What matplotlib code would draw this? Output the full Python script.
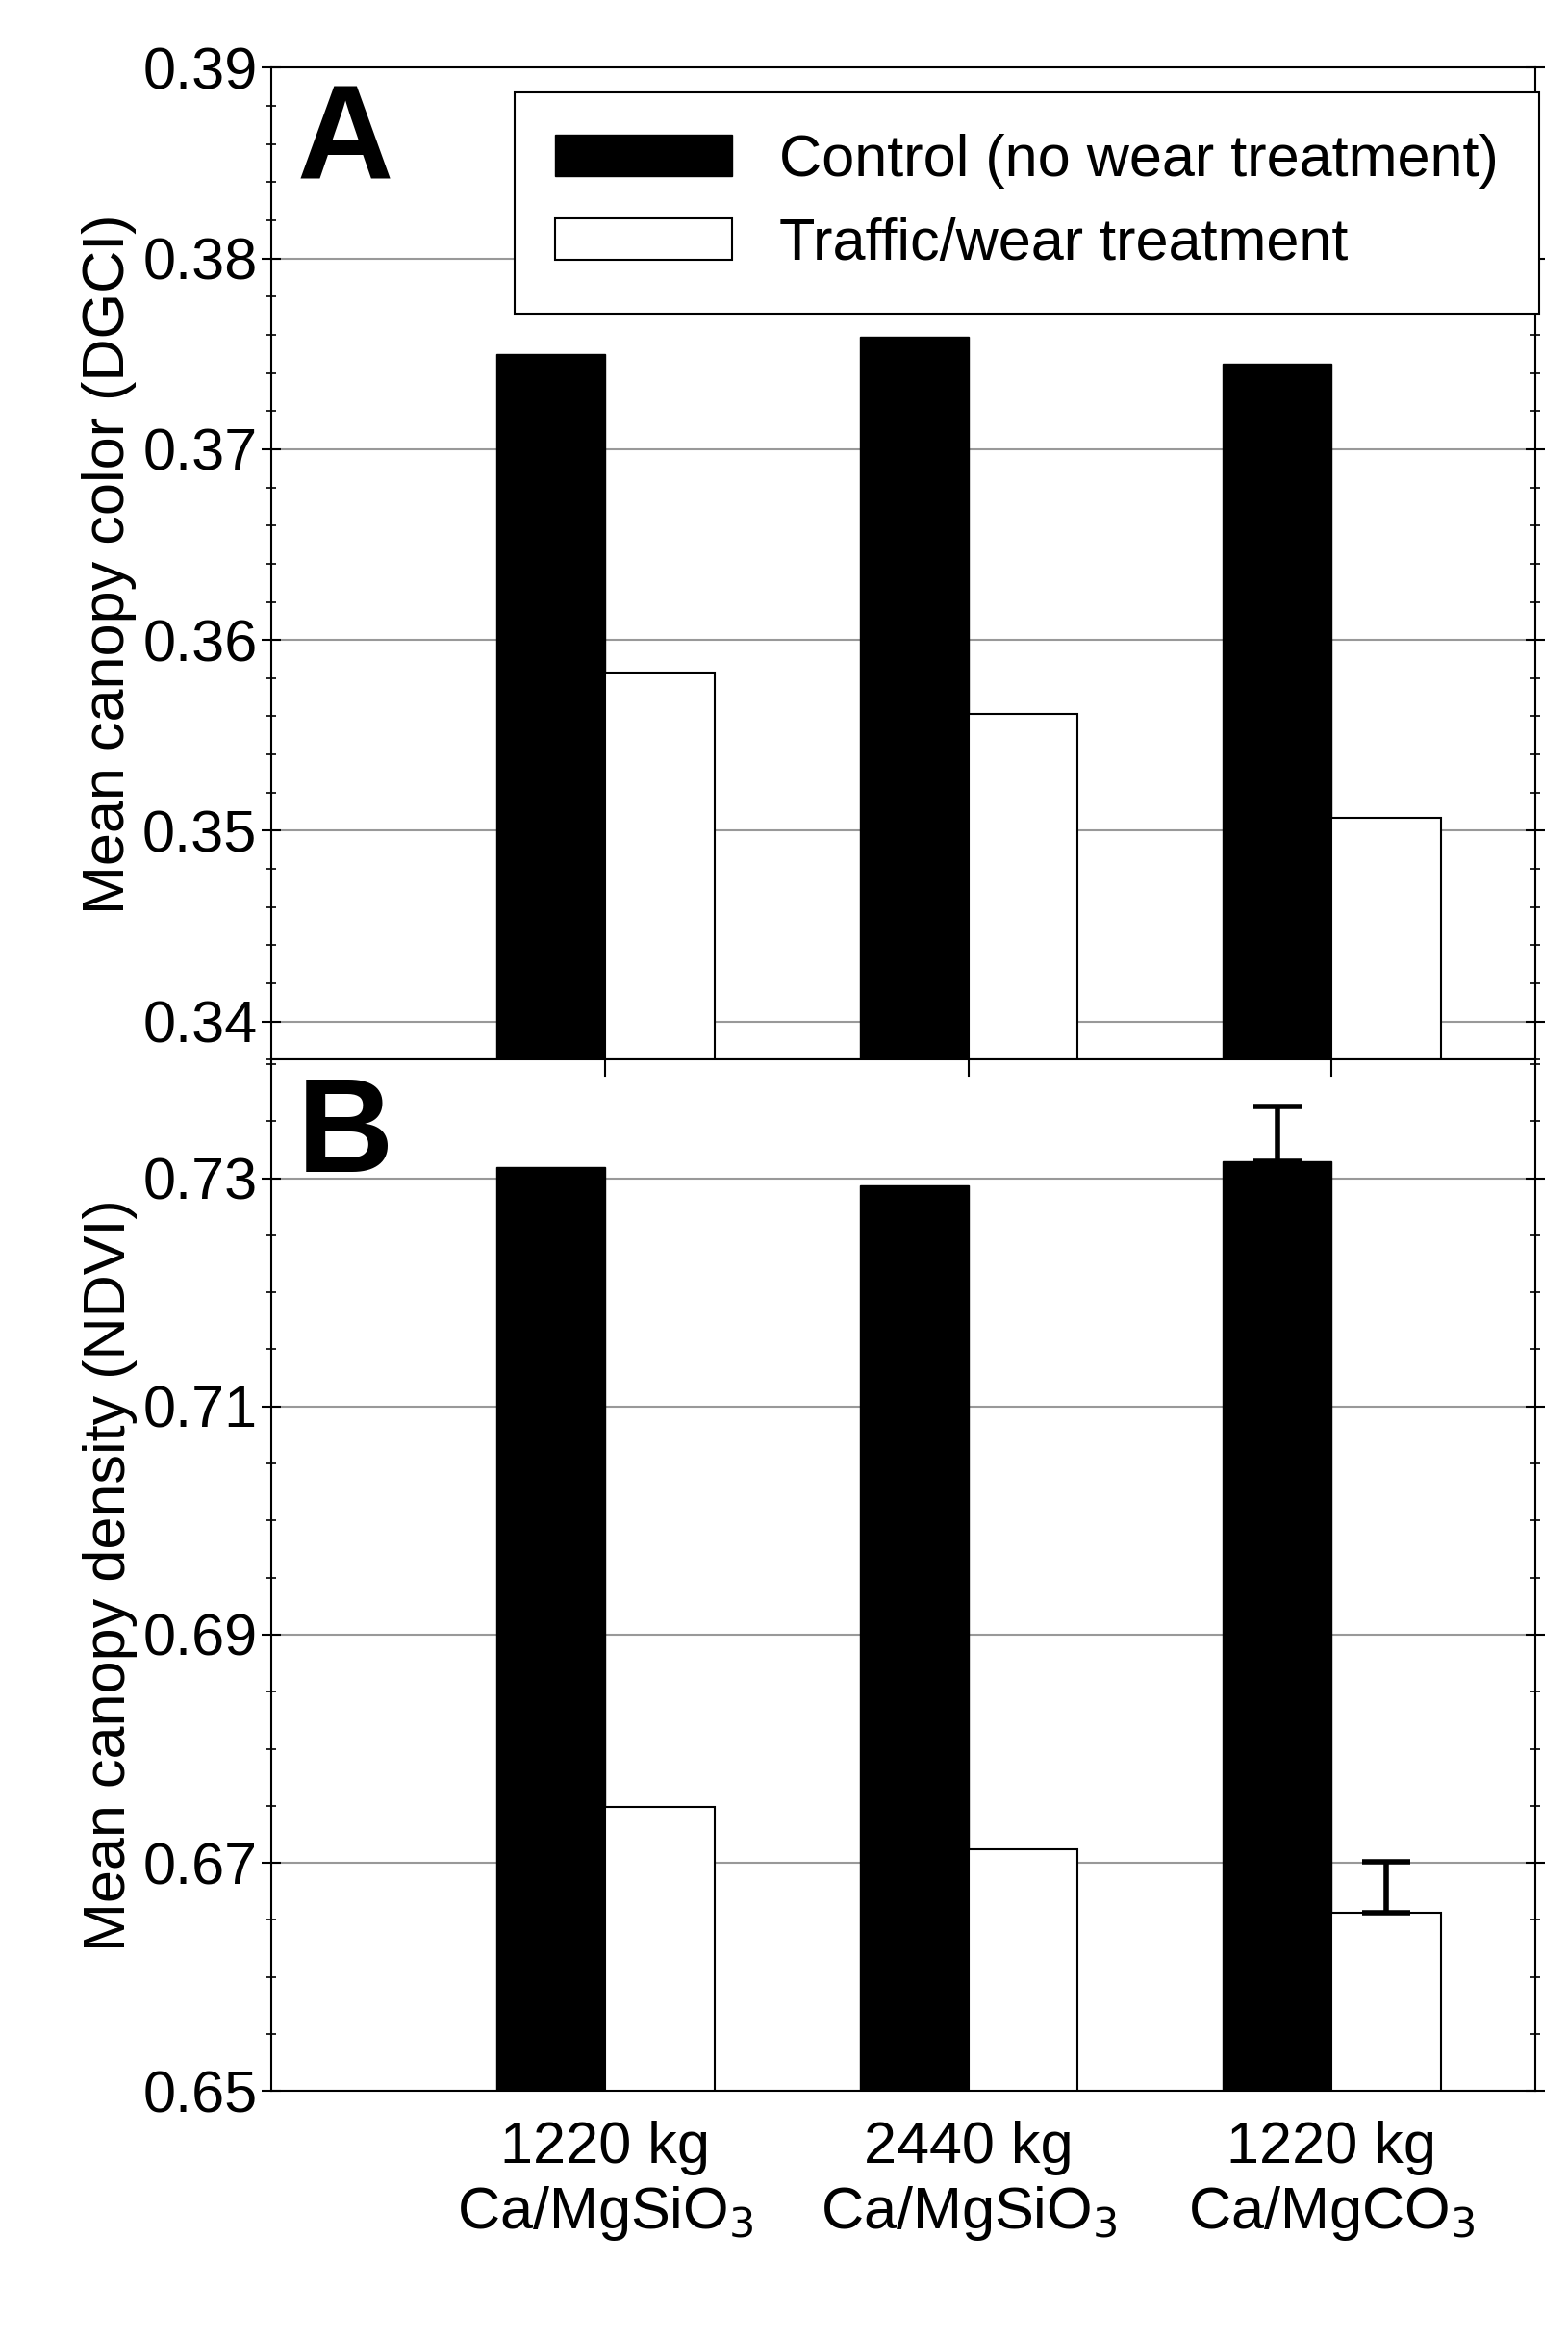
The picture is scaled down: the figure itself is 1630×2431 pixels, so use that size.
import matplotlib.pyplot as plt
from matplotlib.ticker import MultipleLocator

plt.rcParams["font.family"] = ["Liberation Sans", "DejaVu Sans"]

groups = ["1220 kg\nCa/MgSiO$_3$", "2440 kg\nCa/MgSiO$_3$", "1220 kg\nCa/MgCO$_3$"]
color_control = [0.3750, 0.3759, 0.3745]
color_traffic = [0.3583, 0.3561, 0.3507]
ndvi_control = [0.7310, 0.7294, 0.7315]
ndvi_traffic = [0.6749, 0.6712, 0.6656]
# only the third group shows error bars in the figure
err_group = 2
ndvi_control_err = 0.0048
ndvi_traffic_err = 0.0045

fig = plt.figure(figsize=(16.3, 24.31), dpi=100)
ax_a = fig.add_axes([0.173, 0.547, 0.806, 0.424])
ax_b = fig.add_axes([0.173, 0.106, 0.806, 0.441])

x = [1, 2, 3]
width = 0.30
fs = 44


def style(ax, major, minor):
    ax.set_xlim(0.08, 3.56)
    ax.yaxis.set_major_locator(MultipleLocator(major))
    ax.yaxis.set_minor_locator(MultipleLocator(minor))
    ax.grid(axis="y", color="#999999", linewidth=1.5, zorder=0)
    ax.set_axisbelow(True)
    ax.tick_params(axis="y", which="both", direction="inout", right=True, labelsize=fs)
    ax.tick_params(axis="y", which="major", length=14, width=1.5)
    ax.tick_params(axis="y", which="minor", length=7, width=1.2)
    for s in ax.spines.values():
        s.set_linewidth(1.5)


# Panel A
ax_a.bar([i - width / 2 for i in x], color_control, width, color="black",
         edgecolor="black", label="Control (no wear treatment)", zorder=2)
ax_a.bar([i + width / 2 for i in x], color_traffic, width, color="white",
         edgecolor="black", linewidth=1.5, label="Traffic/wear treatment", zorder=2)
ax_a.set_ylim(0.338, 0.39)
style(ax_a, 0.01, 0.002)
ax_a.set_xticks([])
ax_a.set_yticklabels([f"{v:.2f}" for v in ax_a.get_yticks()])
ax_a.set_ylabel("Mean canopy color (DGCI)", fontsize=fs)
ax_a.text(0.02, 0.985, "A", transform=ax_a.transAxes, fontsize=100,
          fontweight="bold", va="top", ha="left")
leg = ax_a.legend(loc="upper left", bbox_to_anchor=(0.169, 1.005), fontsize=fs,
                  fancybox=False, framealpha=1, edgecolor="black",
                  handlelength=3.0, borderpad=0.7, labelspacing=0.5)
leg.get_frame().set_linewidth(1.5)

# Panel B
ax_b.bar([i - width / 2 for i in x], ndvi_control, width, color="black",
         edgecolor="black", zorder=2)
ax_b.bar([i + width / 2 for i in x], ndvi_traffic, width, color="white",
         edgecolor="black", linewidth=1.5, zorder=2)
ax_b.errorbar([x[err_group] - width / 2], [ndvi_control[err_group]],
              yerr=[[0], [ndvi_control_err]], fmt="none", ecolor="black",
              elinewidth=4, capsize=18, capthick=4, zorder=3)
ax_b.errorbar([x[err_group] + width / 2], [ndvi_traffic[err_group]],
              yerr=[[0], [ndvi_traffic_err]], fmt="none", ecolor="black",
              elinewidth=4, capsize=18, capthick=4, zorder=3)
ax_b.set_ylim(0.65, 0.7404)
style(ax_b, 0.02, 0.005)
ax_b.set_yticks([0.65, 0.67, 0.69, 0.71, 0.73])
ax_b.set_yticklabels(["0.65", "0.67", "0.69", "0.71", "0.73"])
ax_b.set_xticks(x)
ax_b.set_xticklabels(groups, fontsize=fs)
ax_b.tick_params(axis="x", length=0, pad=22, top=False)
ax_b.set_ylabel("Mean canopy density (NDVI)", fontsize=fs)
ax_b.text(0.02, 0.985, "B", transform=ax_b.transAxes, fontsize=100,
          fontweight="bold", va="top", ha="left")

# small ticks at the shared border between groups
for xb in x:
    ax_b.plot([xb, xb], [0.7404, 0.7390], color="black", linewidth=1.5,
              clip_on=False, zorder=4)

fig.savefig("out.png", dpi=100)
